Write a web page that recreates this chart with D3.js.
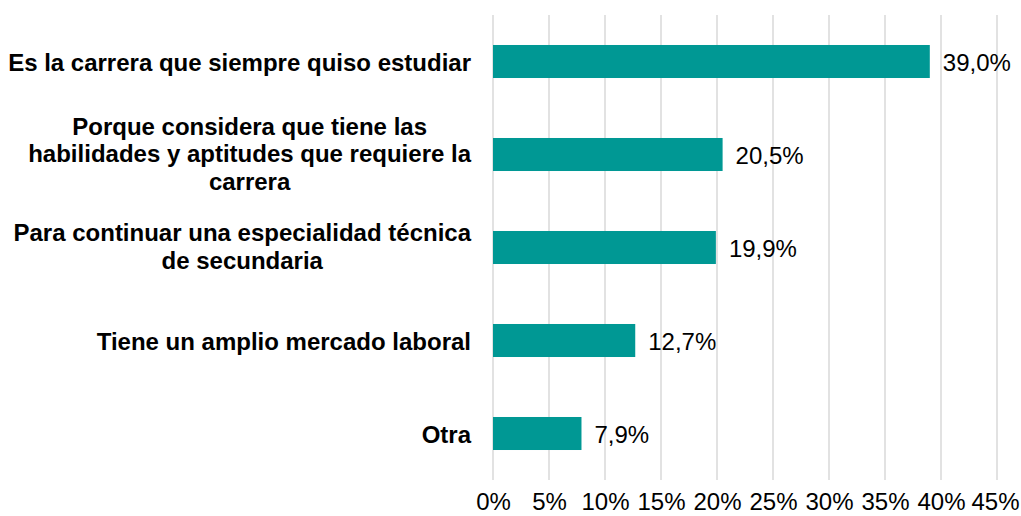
<!DOCTYPE html>
<html>
<head>
<meta charset="utf-8">
<script src="https://cdn.jsdelivr.net/npm/d3@7"></script>
<style>
  body { margin: 0; background: #fff; }
  svg text { font-family: "Liberation Sans", Arial, sans-serif; }
</style>
</head>
<body>
<svg id="chart" width="1021" height="516"></svg>
<script>
'use strict';

// categories, one entry per line of the label
var categories = [
  ["Es la carrera que siempre quiso estudiar"],
  ["Porque considera que tiene las", "habilidades y aptitudes que requiere la", "carrera"],
  ["Para continuar una especialidad técnica", "de secundaria"],
  ["Tiene un amplio mercado laboral"],
  ["Otra"]
];
var values = [39.0, 20.5, 19.9, 12.7, 7.9];
var ticks = [0, 5, 10, 15, 20, 25, 30, 35, 40, 45];

var svg = d3.select('#chart');
var margin = {top: 15, left: 493, right: 24, bottom: 36};
var width = 1021 - margin.left - margin.right;
var height = 516 - margin.top - margin.bottom;

var x = d3.scaleLinear().domain([0, 45]).range([0, width]);
var y = d3.scaleBand()
  .domain(d3.range(values.length))
  .range([0, height])
  .paddingInner(0.645)
  .paddingOuter(0.3225);

var g = svg.append("g").attr("transform", "translate(" + margin.left + "," + margin.top + ")");

// gridlines
g.selectAll(".grid")
  .data(ticks)
  .enter().append("line")
    .attr("x1", function(d) { return x(d); })
    .attr("x2", function(d) { return x(d); })
    .attr("y1", 0)
    .attr("y2", height)
    .attr("stroke", "#d9d9d9")
    .attr("stroke-width", 1.5);

// x axis labels
var xAxis = g.append("g")
  .attr("transform", "translate(0," + height + ")")
  .call(d3.axisBottom(x).tickValues(ticks).tickSize(0).tickPadding(0)
          .tickFormat(function(d) { return d + "%"; }));
xAxis.select(".domain").remove();
xAxis.selectAll("text")
  .attr("y", 30)
  .attr("dy", null)
  .attr("fill", "#000")
  .style("font-size", "24px")
  .style("font-family", '"Liberation Sans", Arial, sans-serif');
// keep the last label inside the picture
xAxis.selectAll(".tick").filter(function(d) { return d === 45; }).select("text")
  .attr("text-anchor", "end")
  .attr("x", 1019 - margin.left - x(45));

// bars
g.selectAll(".bar")
  .data(values)
  .enter().append("rect")
    .attr("class", "bar")
    .attr("x", x(0))
    .attr("y", function(d, i) { return y(i); })
    .attr("width", function(d) { return x(d); })
    .attr("height", y.bandwidth())
    .attr("fill", "#009894");

// value labels
g.selectAll(".val")
  .data(values)
  .enter().append("text")
    .attr("x", function(d) { return x(d) + 13; })
    .attr("y", function(d, i) { return y(i) + y.bandwidth() / 2 + 9; })
    .style("font-size", "24px")
    .attr("fill", "#000")
    .text(function(d) { return d.toFixed(1).replace(".", ",") + "%"; });

// category labels: block right aligned, lines centred inside it
var lineH = 27.5;
var labelRight = 471 - margin.left;
categories.forEach(function(lines, i) {
  var cy = y(i) + y.bandwidth() / 2 + 9 - (lines.length > 1 ? 1.5 : 0);
  var t = g.append("text")
    .style("font-size", "24px")
    .style("font-weight", "bold")
    .attr("fill", "#000")
    .attr("text-anchor", "middle");
  var spans = lines.map(function(line, j) {
    return t.append("tspan")
      .attr("y", cy + (j - (lines.length - 1) / 2) * lineH)
      .text(line);
  });
  var maxW = d3.max(spans, function(s) { return s.node().getComputedTextLength(); });
  spans.forEach(function(s) { s.attr("x", labelRight - maxW / 2); });
});
</script>
</body>
</html>
